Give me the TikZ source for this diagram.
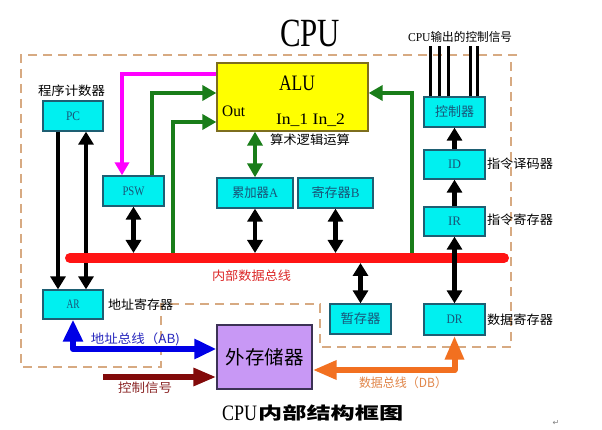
\documentclass[tikz,border=0pt]{standalone}
\usepackage{fontspec}
\usepackage{graphicx}
\setmainfont{Liberation Serif}
\newfontfamily\cjk{Noto Sans CJK SC}
\newfontfamily\symf{DejaVu Sans}
\usetikzlibrary{arrows.meta}
\newcommand\fitw[2]{\resizebox{#1pt}{\height}{#2}}
\definecolor{cyanfill}{RGB}{0,240,240}
\definecolor{cyanborder}{RGB}{30,95,115}
\definecolor{boxtext}{RGB}{25,85,120}
\definecolor{alufill}{RGB}{255,255,0}
\definecolor{aluborder}{RGB}{125,110,30}
\definecolor{memfill}{RGB}{200,152,245}
\definecolor{memborder}{RGB}{60,50,85}
\definecolor{cGreen}{RGB}{25,125,25}
\definecolor{cMag}{RGB}{255,0,255}
\definecolor{cBus}{RGB}{255,20,20}
\definecolor{cBlue}{RGB}{0,0,230}
\definecolor{cMaroon}{RGB}{130,10,10}
\definecolor{cOrange}{RGB}{242,112,32}
\definecolor{cDash}{RGB}{215,170,130}
\definecolor{tBlue}{RGB}{40,40,190}
\definecolor{tRed}{RGB}{220,40,40}
\definecolor{tMaroon}{RGB}{140,40,40}
\definecolor{tOrange}{RGB}{225,135,75}
\tikzset{
  box/.style={draw=cyanborder, fill=cyanfill, line width=1.3pt, inner sep=0pt,
    text=boxtext, font=\fontsize{13}{13}\selectfont},
  lbl/.style={inner sep=0pt, font=\cjk\fontsize{12.5}{12.5}\selectfont},
  latin/.style={inner sep=0pt, anchor=base},
  blk/.style={line width=4.5pt, draw=black},
  gline/.style={line width=4.5pt, draw=cGreen},
  mline/.style={line width=4.5pt, draw=cMag},
  busline/.style={line width=10pt, draw=cBus, line cap=round},
  bline/.style={line width=6pt, draw=cBlue, line join=round},
  mrline/.style={line width=6pt, draw=cMaroon},
  oline/.style={line width=6pt, draw=cOrange, line join=round},
  dashline/.style={draw=cDash, line width=1.2pt, dash pattern=on 9pt off 6pt},
  tB/.tip={Triangle[width=15pt,length=13pt]},
  tG/.tip={Triangle[width=15pt,length=14pt]},
  tM/.tip={Triangle[width=14pt,length=13pt]},
  tBl/.tip={Triangle[width=19pt,length=22pt]},
  tMr/.tip={Triangle[width=17pt,length=23pt]},
  tO/.tip={Triangle[width=18pt,length=24pt]},
}
\begin{document}
\begin{tikzpicture}[x=1pt,y=-1pt]
\fill[white] (0,0) rectangle (602,430);
\useasboundingbox (0,0) rectangle (602,430);

% title
\node[latin, font=\fontsize{40}{40}\selectfont] (title) at (310,47) {\fitw{60}{CPU}};
\node[lbl, font=\fontsize{12}{12}\selectfont] (ctlout) at (460,37) {\fitw{104}{CPU{\cjk 输出的控制信号}}};

% dashed CPU outline
\draw[dashline] (517,55) -- (21,55) -- (21,367) -- (161,367) -- (161,304) -- (320,304)
  -- (320,347) -- (511,347) -- (511,55);

% boxes
\node[box, minimum width=60pt, minimum height=30pt] (pc) at (73,116) {\fitw{14}{PC}};
\node[box, minimum width=61pt, minimum height=30pt] (psw) at (133.5,191) {\fitw{22}{PSW}};
\node[draw=aluborder, fill=alufill, line width=1.3pt, minimum width=151pt, minimum height=68pt] (alu) at (292.5,97) {};
\node[box, minimum width=76pt, minimum height=30pt] (acc) at (255,193) {\fitw{46}{{\cjk 累加器}A}};
\node[box, minimum width=75pt, minimum height=30pt] (regb) at (335.5,193) {\fitw{48}{{\cjk 寄存器}B}};
\node[box, minimum width=61pt, minimum height=30pt] (ctrl) at (454.5,112) {\fitw{39}{\cjk 控制器}};
\node[box, minimum width=61pt, minimum height=29pt] (id) at (454.5,164.5) {\fitw{13}{ID}};
\node[box, minimum width=61pt, minimum height=29pt] (ir) at (454.5,221.5) {\fitw{13}{IR}};
\node[box, minimum width=61pt, minimum height=31pt] (dr) at (454.5,319.5) {\fitw{16}{DR}};
\node[box, minimum width=61pt, minimum height=30pt] (tmp) at (360.5,319) {\fitw{40}{\cjk 暂存器}};
\node[box, minimum width=60pt, minimum height=29pt] (ar) at (73,304.5) {\fitw{13}{AR}};
\node[draw=memborder, fill=memfill, line width=1.3pt, minimum width=95pt, minimum height=64pt,
  inner sep=0pt, font=\cjk\fontsize{19}{19}\selectfont] (mem) at (264.5,357) {\fitw{78}{外存储器}};

% ALU texts
\node[latin, font=\fontsize{22}{22}\selectfont] (alut) at (297,90.5) {\fitw{36}{ALU}};
\node[latin, anchor=base west, font=\fontsize{16}{16}\selectfont] (out) at (222,117) {\fitw{23}{Out}};
\node[latin, font=\fontsize{16}{16}\selectfont] (inn) at (310.5,124.5) {\fitw{69}{In\_1 In\_2}};
\node[lbl] (arith) at (310,140) {\fitw{80}{算术逻辑运算}};

% outside labels
\node[lbl] (lpc) at (71.5,91) {\fitw{67}{程序计数器}};
\node[lbl] (lid) at (520,164) {\fitw{66}{指令译码器}};
\node[lbl] (lir) at (520,220) {\fitw{66}{指令寄存器}};
\node[lbl] (ldr) at (520,320) {\fitw{66}{数据寄存器}};
\node[lbl] (lar) at (140.5,305) {\fitw{65}{地址寄存器}};
\node[lbl, text=tRed] (lbus) at (251.5,276) {\fitw{79}{内部数据总线}};
\node[lbl, text=tBlue] (lab) at (135.5,339) {\fitw{89}{{\cjk 地址总线（}AB)}};
\node[lbl, text=tMaroon] (lcs) at (145,388) {\fitw{54}{控制信号}};
\node[lbl, text=tOrange] (ldb) at (403,383) {\fitw{88}{{\cjk 数据总线（}DB{\cjk ）}}};

% green paths to ALU
\draw[gline, -tG] ([xshift=18.5pt]psw.north) |- ([yshift=4pt]alu.west);
\coordinate (g1) at (173,258);
\draw[gline, -tG] (g1) |- ([yshift=-25pt]alu.west);
\coordinate (g2) at (412,258);
\draw[gline, -tG] (g2) |- ([yshift=4pt]alu.east);
\draw[gline, tG-tG] (acc.north |- alu.south) -- (acc.north);

% magenta ALU -> PSW
\draw[mline, -tM] ([yshift=23pt]alu.west) -| ([xshift=-11.5pt]psw.north);

% PC <-> AR
\draw[blk, -tB] ([xshift=-15pt]pc.south) -- ([xshift=-15pt]ar.north);
\draw[blk, tB-tB] ([xshift=13pt]pc.south) -- ([xshift=13pt]ar.north);

% internal bus
\coordinate (busL) at (70,258);
\coordinate (busR) at (504,258);
\draw[busline] (busL) -- (busR);
\coordinate (bustop) at (0,253);
\coordinate (busbot) at (0,263);
\draw[blk, tB-tB] (psw.south) -- (psw.south |- bustop);
\draw[blk, tB-tB] (acc.south) -- (acc.south |- bustop);
\draw[blk, tB-tB] (regb.south) -- (regb.south |- bustop);
\draw[blk, tB-tB] (tmp.north) -- (tmp.north |- busbot);
\draw[blk, tB-tB] (ir.south) -- (dr.north);
\draw[blk, -tB] (ir.north) -- (id.south);
\draw[blk, -tB] (id.north) -- (ctrl.south);

% control output lines
\foreach \dx in {-24.5,-15.5,-6.5,15.5,22.5}
  \draw[line width=3pt] ([xshift=\dx pt]ctrl.north) -- ++(0,-50);

% external buses
\draw[bline, tBl-tBl] (ar.south) |- ([yshift=8pt]mem.west);
\coordinate (cs) at (103,377);
\draw[mrline, -tMr] (cs) -- (cs -| mem.west);
\draw[oline, tO-tO] ([yshift=-13pt]mem.east) -| (dr.south);

% bottom caption
\node[latin, anchor=base west, font=\fontsize{22}{22}\selectfont] (cap1) at (222,420) {\fitw{35}{CPU}};
\node[latin, anchor=base west, font=\cjk\bfseries\fontsize{17}{17}\selectfont] (cap2) at (258,419) {\fitw{145}{内部结构框图}};
\node[inner sep=0pt, font=\symf\fontsize{8}{8}\selectfont, text=gray] (ret) at (556,423) {↵};
\end{tikzpicture}
\end{document}
